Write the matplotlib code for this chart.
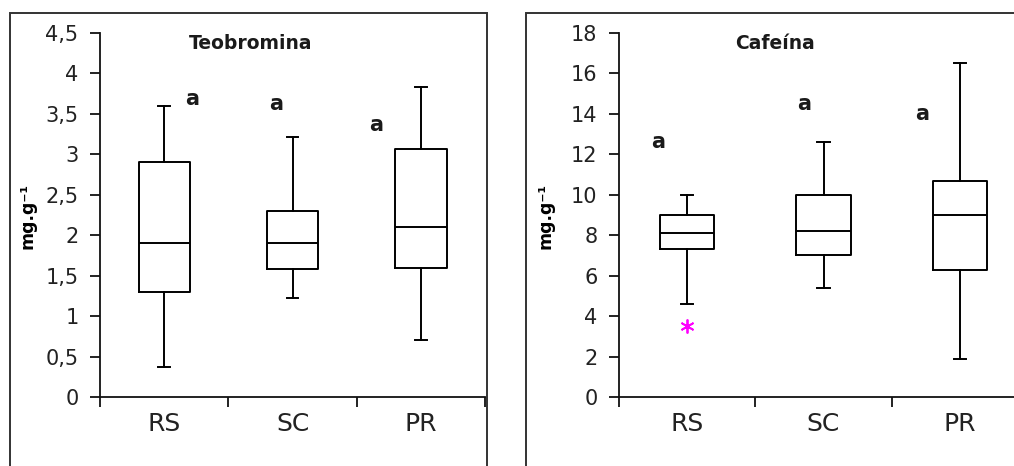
import matplotlib
matplotlib.use("Agg")
import matplotlib.pyplot as plt
from matplotlib.patches import Rectangle

# ---------------- data ----------------
categories = ["RS", "SC", "PR"]

# Teobromina (mg.g-1)
teo_whislo = [0.37, 1.23, 0.70]
teo_q1     = [1.30, 1.58, 1.60]
teo_med    = [1.90, 1.90, 2.10]
teo_q3     = [2.90, 2.30, 3.07]
teo_whishi = [3.60, 3.22, 3.83]
teo_fliers = [[], [], []]
teo_yticks = [0, 0.5, 1, 1.5, 2, 2.5, 3, 3.5, 4, 4.5]
teo_yticklabels = ["0", "0,5", "1", "1,5", "2", "2,5", "3", "3,5", "4", "4,5"]
teo_letters = ["a", "a", "a"]
teo_letter_x = [1.22, 1.87, 2.65]
teo_letter_y = [3.69, 3.62, 3.36]

# Cafeína (mg.g-1)
caf_whislo = [4.6, 5.4, 1.9]
caf_q1     = [7.3, 7.0, 6.3]
caf_med    = [8.1, 8.2, 9.0]
caf_q3     = [9.0, 10.0, 10.7]
caf_whishi = [10.0, 12.6, 16.5]
caf_fliers = [[3.5], [], []]
caf_yticks = [0, 2, 4, 6, 8, 10, 12, 14, 16, 18]
caf_yticklabels = ["0", "2", "4", "6", "8", "10", "12", "14", "16", "18"]
caf_letters = ["a", "a", "a"]
caf_letter_x = [0.79, 1.86, 2.72]
caf_letter_y = [12.6, 14.5, 14.0]

W, H = 1014, 466
fig = plt.figure(figsize=(W / 100, H / 100), dpi=100)
fig.patch.set_facecolor("white")

TXT = "#222222"
LW = 1.4


def px(x0, y0, x1, y1):
    """pixel box (top-left origin) -> figure fraction rect"""
    return [x0 / W, 1 - y1 / H, (x1 - x0) / W, (y1 - y0) / H]


def panel(rect, whislo, q1, med, q3, whishi, fliers, yticks, yticklabels,
          ymax, title, title_x, letters, lx, ly):
    ax = fig.add_axes(rect)
    stats = []
    for i in range(len(categories)):
        stats.append(dict(med=med[i], q1=q1[i], q3=q3[i],
                          whislo=whislo[i], whishi=whishi[i],
                          fliers=fliers[i], label=categories[i]))
    ax.bxp(stats, positions=[1, 2, 3], widths=0.4, showfliers=True,
           boxprops=dict(color="black", linewidth=LW),
           medianprops=dict(color="black", linewidth=LW),
           whiskerprops=dict(color="black", linewidth=LW),
           capprops=dict(color="black", linewidth=LW),
           capwidths=0.09,
           flierprops=dict(marker=(6, 2, 0), markersize=10,
                           markeredgecolor="#ff00ff", markerfacecolor="#ff00ff",
                           markeredgewidth=1.3, linestyle="none"))
    ax.set_xlim(0.5, 3.5)
    ax.set_ylim(0, ymax)
    for s in ["top", "right"]:
        ax.spines[s].set_visible(False)
    for s in ["left", "bottom"]:
        ax.spines[s].set_linewidth(1.3)
        ax.spines[s].set_color("#111111")
    ax.set_yticks(yticks)
    ax.set_yticklabels(yticklabels, fontsize=15, color=TXT,
                       family="DejaVu Sans")
    ax.tick_params(axis="y", direction="out", length=7.5, width=1.3,
                   pad=8, colors="#111111", labelcolor=TXT)
    ax.set_xticks([0.5, 1.5, 2.5, 3.5])
    ax.set_xticklabels([])
    ax.set_xticks([1, 2, 3], minor=True)
    ax.set_xticklabels(categories, minor=True, fontsize=18, color=TXT,
                       family="DejaVu Sans")
    ax.tick_params(axis="x", which="major", direction="out", length=7,
                   width=1.3, colors="#111111")
    ax.tick_params(axis="x", which="minor", length=0, pad=11, labelcolor=TXT)
    ax.text(title_x, 0.9725, title, transform=ax.transAxes, ha="center",
            va="center", fontsize=13.5, fontweight="bold", color="#1a1a1a",
            family="DejaVu Sans")
    for t, x, y in zip(letters, lx, ly):
        ax.text(x, y, t, ha="center", va="center", fontsize=15,
                fontweight="bold", color="#1a1a1a", family="DejaVu Sans")
    ax.patch.set_alpha(0)
    return ax


ax1 = panel(px(100, 33, 485, 397), teo_whislo, teo_q1, teo_med, teo_q3,
            teo_whishi, teo_fliers, teo_yticks, teo_yticklabels, 4.5,
            "Teobromina", 0.39, teo_letters, teo_letter_x, teo_letter_y)
ax2 = panel(px(619, 33, 1028, 397), caf_whislo, caf_q1, caf_med, caf_q3,
            caf_whishi, caf_fliers, caf_yticks, caf_yticklabels, 18,
            "Cafeína", 0.381, caf_letters, caf_letter_x, caf_letter_y)

# y labels
for xc in (27, 546):
    fig.text(xc / W, 1 - 216 / H, "mg.g\u207b\u00b9", rotation=90,
             ha="center", va="center", fontsize=12.5, fontweight="bold",
             color="black", family="DejaVu Sans")

# panel frames
fig.patches.append(Rectangle((10 / W, -0.1), (487 - 10) / W, 1.1 - 13 / H,
                             transform=fig.transFigure, fill=False,
                             edgecolor="#333333", linewidth=1.4, zorder=0))
fig.patches.append(Rectangle((526 / W, -0.1), 0.6, 1.1 - 13 / H,
                             transform=fig.transFigure, fill=False,
                             edgecolor="#333333", linewidth=1.4, zorder=0))

fig.savefig("out.png", dpi=100)
